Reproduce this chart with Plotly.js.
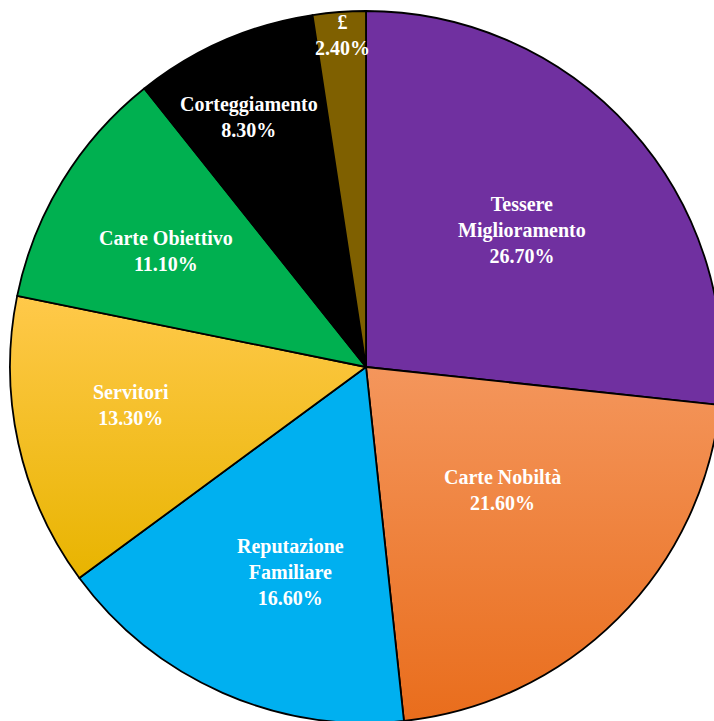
<!DOCTYPE html>
<html>
<head>
<meta charset="utf-8">
<script src="https://cdn.plot.ly/plotly-3.0.1.min.js"></script>
<style>
html,body{margin:0;padding:0;overflow:hidden;background:#fff;width:714px;height:721px;}
#chart{width:732px;height:734px;}
</style>
</head>
<body>
<div id="chart"></div>
<script>
const categories = ["Tessere Miglioramento","Carte Nobiltà","Reputazione Familiare","Servitori","Carte Obiettivo","Corteggiamento","£"];
const displayLabels = ["Tessere<br>Miglioramento","Carte Nobiltà","Reputazione<br>Familiare","Servitori","Carte Obiettivo","Corteggiamento","£"];
const shares = [26.7, 21.6, 16.6, 13.3, 11.1, 8.3, 2.4];
const colors = ["#7030A0","#F0843C","#00B0F0","#FFC21E","#00B050","#000000","#7F6000"];
// label placement style: distance from centre (fraction of radius) and angular nudge (degrees) from the slice bisector
const labelRadius = [0.583, 0.517, 0.614, 0.669, 0.649, 0.775, 0.935];
const labelAngleShift = [0.6, -3.1, -3.5, 3.2, -1.4, -1.5, 0.2];

const total = shares.reduce((a, b) => a + b, 0);
const annotations = [];
let cum = 0;
shares.forEach(function(v, i){
  const mid = (cum + v / 2) / total * 2 * Math.PI + labelAngleShift[i] * Math.PI / 180;
  cum += v;
  annotations.push({
    xref: "paper", yref: "paper",
    x: 0.5 + 0.5 * labelRadius[i] * Math.sin(mid),
    y: 0.5 + 0.5 * labelRadius[i] * Math.cos(mid),
    xanchor: "center", yanchor: "middle", align: "center",
    showarrow: false,
    text: displayLabels[i] + "<br>" + (v / total * 100).toFixed(2) + "%",
    font: {family: "Liberation Serif", size: 20, color: "#ffffff", weight: "bold"}
  });
});

const trace = {
  type: "pie",
  labels: categories,
  values: shares,
  textinfo: "none",
  sort: false,
  direction: "clockwise",
  rotation: 0,
  marker: {colors: colors, line: {color: "#000000", width: 1.8}},
  hoverinfo: "none",
  showlegend: false
};

const layout = {
  width: 732, height: 734,
  margin: {l: 10, r: 10, t: 11, b: 11},
  paper_bgcolor: "#ffffff",
  showlegend: false,
  annotations: annotations
};

Plotly.newPlot("chart", [trace], layout, {staticPlot: true}).then(function(gd){
  const svg = gd.querySelector("svg.main-svg");
  const ns = "http://www.w3.org/2000/svg";
  let defs = svg.querySelector("defs");
  function grad(id, c1, c2){
    const g = document.createElementNS(ns, "linearGradient");
    g.setAttribute("id", id);
    g.setAttribute("x1","0"); g.setAttribute("y1","0");
    g.setAttribute("x2","0"); g.setAttribute("y2","1");
    const s1 = document.createElementNS(ns,"stop"); s1.setAttribute("offset","0"); s1.setAttribute("stop-color",c1);
    const s2 = document.createElementNS(ns,"stop"); s2.setAttribute("offset","1"); s2.setAttribute("stop-color",c2);
    g.appendChild(s1); g.appendChild(s2); defs.appendChild(g);
  }
  grad("gOrange", "#F4965C", "#E96D1C");
  grad("gYellow", "#FFC94A", "#E8B400");
  const slices = gd.querySelectorAll("g.slice path.surface");
  if (slices[1]) slices[1].style.fill = "url(#gOrange)";
  if (slices[3]) slices[3].style.fill = "url(#gYellow)";
});
</script>
</body>
</html>
